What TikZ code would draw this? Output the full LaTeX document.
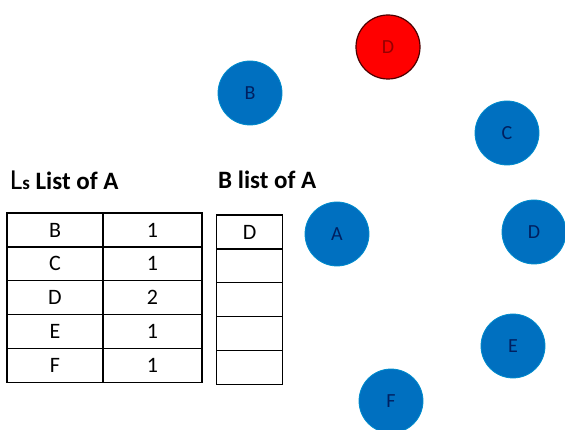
\documentclass[tikz,border=0pt]{standalone}
\usepackage{fontspec}
\setmainfont{Carlito}
\definecolor{nodeblue}{RGB}{0,112,192}
\definecolor{nodered}{RGB}{255,0,0}
\definecolor{navy}{RGB}{0,32,96}
\definecolor{darkred}{RGB}{150,0,0}
\begin{document}
\begin{tikzpicture}[x=1pt,y=-1pt,
  bnode/.style={circle,fill=nodeblue,draw=nodeblue!80!cyan,line width=0.8pt,minimum size=64pt,inner sep=0pt,text=navy,font=\fontsize{20}{20}\selectfont},
  rnode/.style={circle,fill=nodered,draw=black!70!red,line width=1.2pt,minimum size=64pt,inner sep=0pt,text=darkred,font=\fontsize{20}{20}\selectfont},
  cell/.style={draw=black,line width=1.3pt,minimum height=34pt,inner sep=0pt,font=\fontsize{22}{22}\selectfont},
  title/.style={font=\bfseries\fontsize{25}{25}\selectfont,anchor=west,inner sep=0pt}]
\useasboundingbox (0,0) rectangle (565,430);
% graph nodes
\node[rnode] (Dr) at (388,47) {D};
\node[bnode] (B) at (250,93) {B};
\node[bnode] (C) at (507,133) {C};
\node[bnode] (A) at (337,234) {A};
\node[bnode] (Dn) at (534,232) {D};
\node[bnode] (E) at (513,346) {E};
\node[bnode] (F) at (391,401) {F};
% titles
\node[title] (t1) at (10,180) {{\mdseries\fontsize{29}{29}\selectfont L}{\fontsize{19}{19}\selectfont s} List of A};
\node[title] (t2) at (218,180) {B list of A};
% left table
\foreach \i/\l/\n in {0/B/1,1/C/1,2/D/2,3/E/1,4/F/1}{
  \node[cell,minimum width=96pt] (L\i) at (55,230+\i*33.8) {\l};
  \node[cell,minimum width=99pt] (N\i) at (152.5,230+\i*33.8) {\n};
}
% right table
\node[cell,minimum width=66pt] (R0) at (249.7,232) {D};
\foreach \i in {1,...,4}{
  \node[cell,minimum width=66pt] (R\i) at (249.7,232+\i*33.8) {};
}
\end{tikzpicture}
\end{document}
